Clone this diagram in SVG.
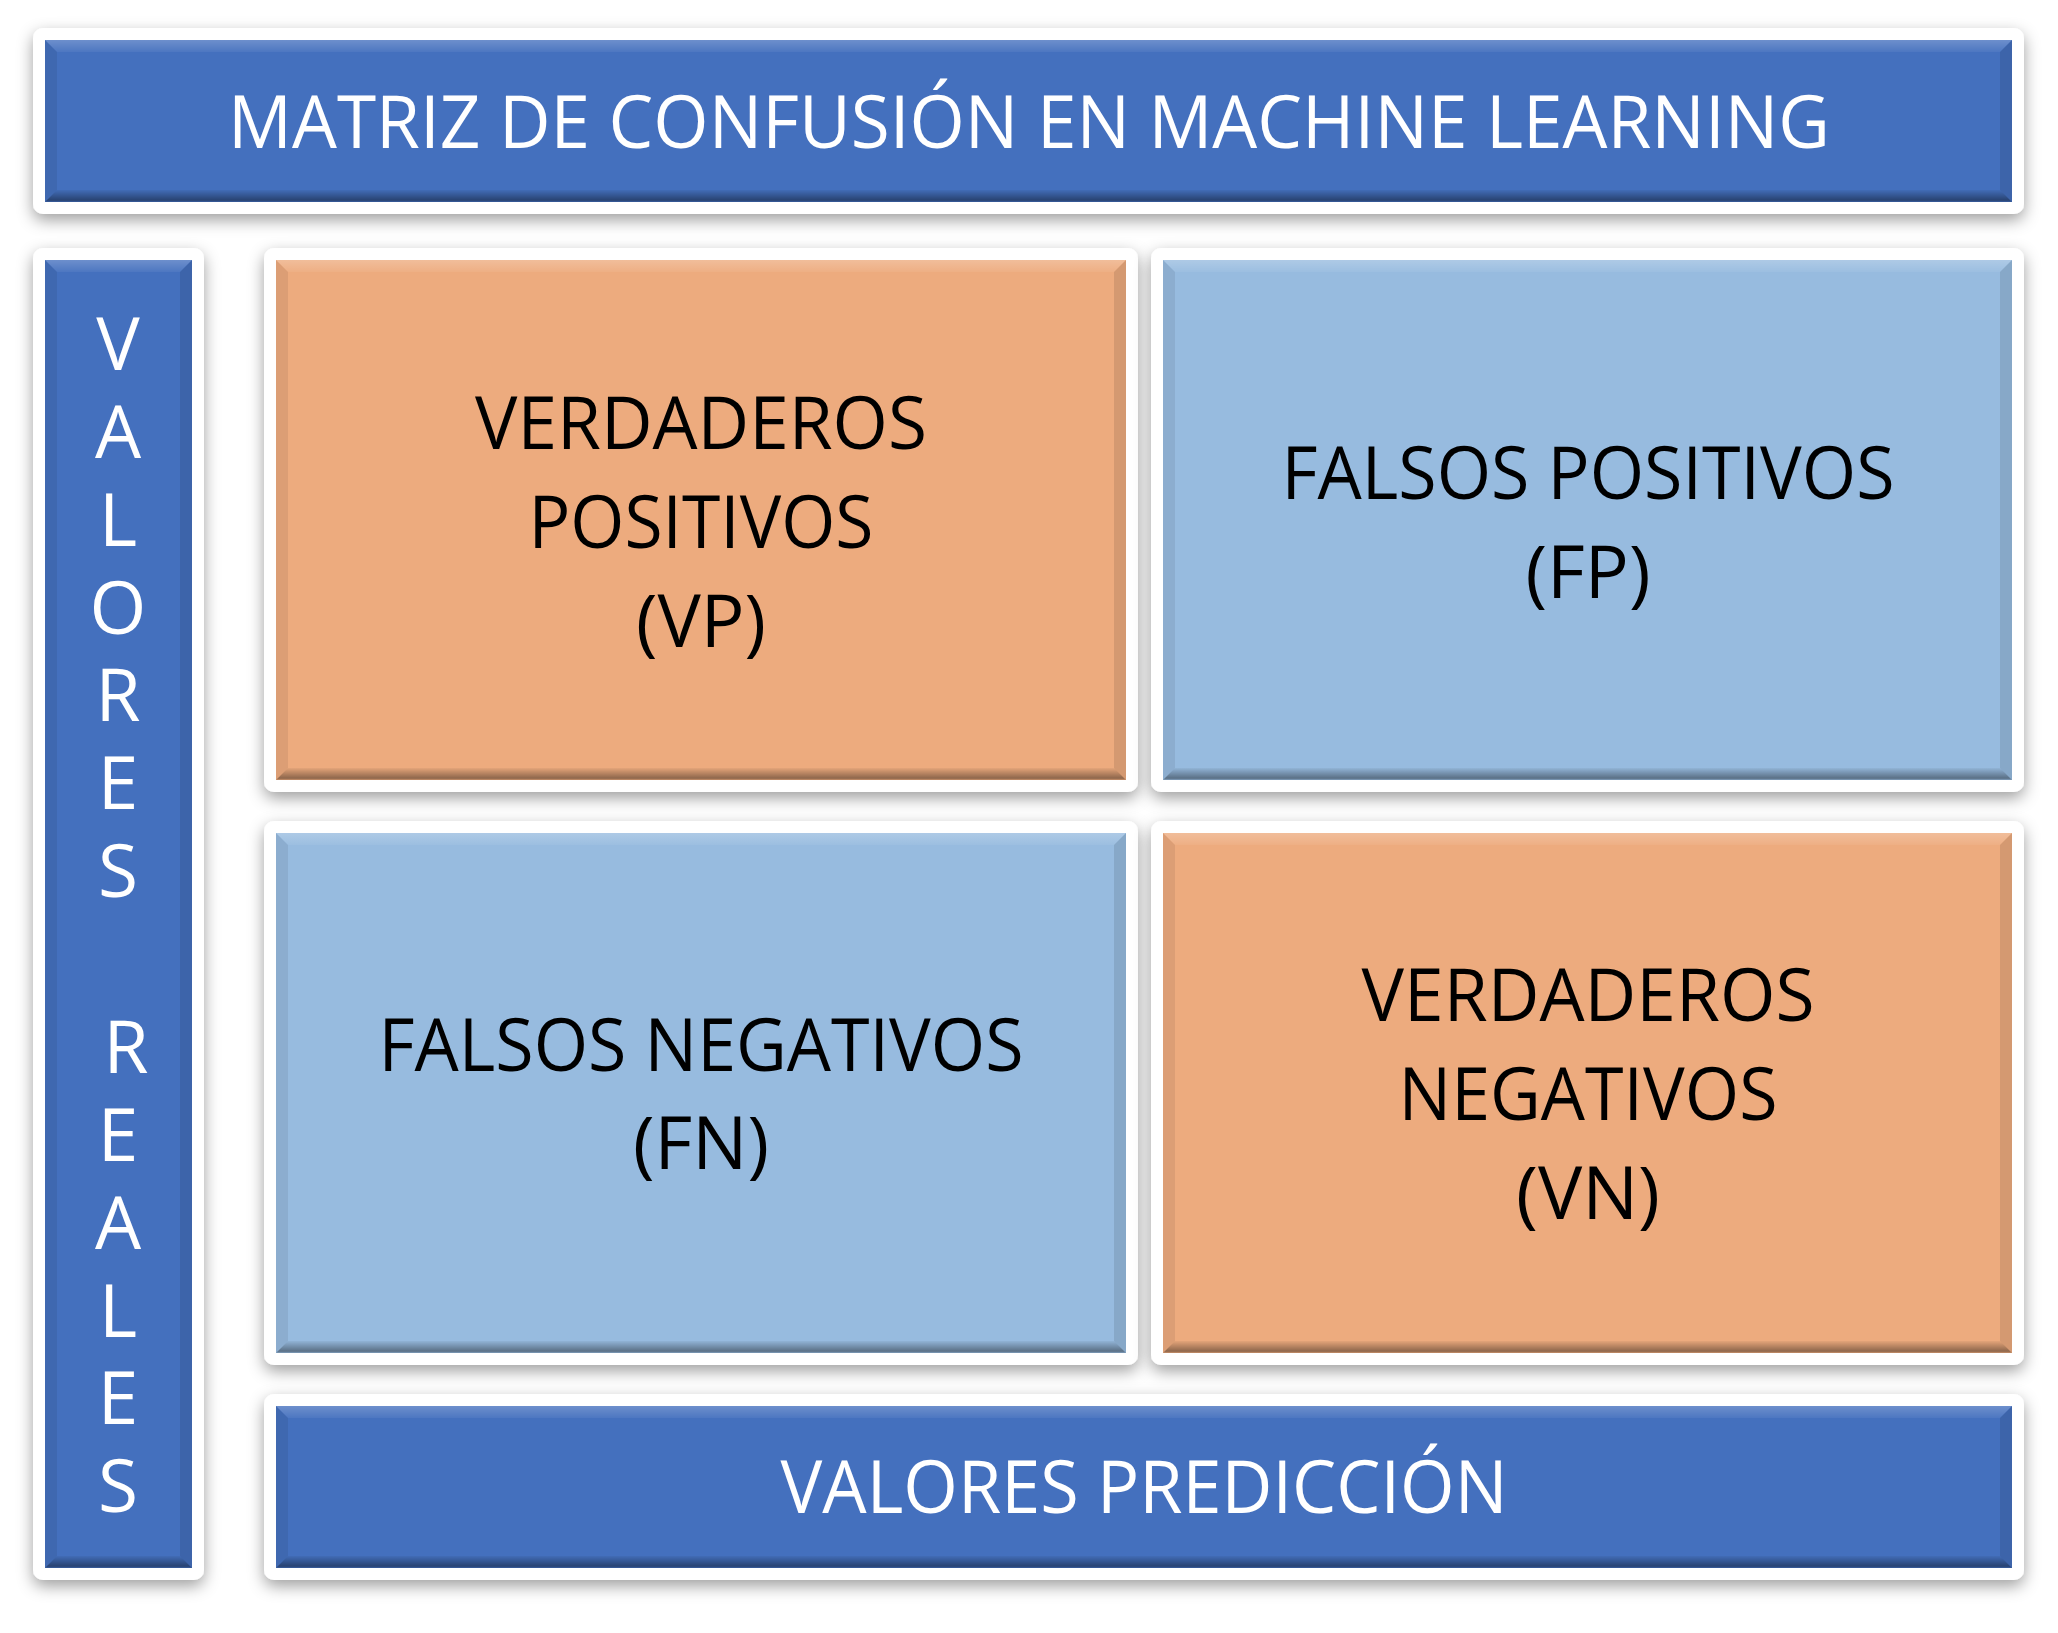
<svg xmlns="http://www.w3.org/2000/svg" width="2058" height="1633" viewBox="0 0 2058 1633">
  <style>
    .frame { fill: #ffffff; filter: url(#shadow); }
    .blue { fill: #4470BE; }
    .lblue { fill: #97BBDF; }
    .orange { fill: #EDAB7E; }
    .bv-top { fill: url(#bvTop); }
    .bv-bot { fill: url(#bvBot); }
    .bv-left { fill: #000000; fill-opacity: 0.07; }
    .bv-right { fill: #000000; fill-opacity: 0.1; }
    text { font-family: "Open Sans", "Noto Sans", "Liberation Sans", sans-serif; font-size: 73px; text-anchor: middle; }
    .w { fill: #ffffff; }
    .k { fill: #000000; }
  </style>
  <defs>
    <filter id="shadow" x="-10%" y="-10%" width="120%" height="130%">
      <feDropShadow dx="0" dy="6" stdDeviation="8" flood-color="#000000" flood-opacity="0.38"/>
    </filter>
    <linearGradient id="bvTop" x1="0" y1="0" x2="0" y2="1">
      <stop offset="0" stop-color="#ffffff" stop-opacity="0.22"/>
      <stop offset="1" stop-color="#ffffff" stop-opacity="0.05"/>
    </linearGradient>
    <linearGradient id="bvBot" x1="0" y1="0" x2="0" y2="1">
      <stop offset="0" stop-color="#000000" stop-opacity="0.04"/>
      <stop offset="0.85" stop-color="#000000" stop-opacity="0.4"/>
      <stop offset="1" stop-color="#000000" stop-opacity="0.15"/>
    </linearGradient>
  </defs>
  <rect width="2058" height="1633" fill="#ffffff"/>

  <!-- title bar -->
  <g id="title">
    <rect class="frame" x="33" y="28" width="1991" height="186" rx="10"/>
    <rect class="blue" x="45" y="40" width="1967" height="162"/>
    <polygon class="bv-top" points="45,40 2012,40 2000,52 57,52"/>
    <polygon class="bv-bot" points="45,202 2012,202 2000,190 57,190"/>
    <polygon class="bv-left" points="45,40 57,52 57,190 45,202"/>
    <polygon class="bv-right" points="2012,40 2000,52 2000,190 2012,202"/>
    <text class="w" x="1029" y="148" textLength="1602" lengthAdjust="spacingAndGlyphs">MATRIZ DE CONFUSIÓN EN MACHINE LEARNING</text>
  </g>

  <!-- vertical axis label, one letter per line -->
  <g id="valores-reales">
    <rect class="frame" x="33" y="248" width="171" height="1332" rx="10"/>
    <rect class="blue" x="45" y="260" width="147" height="1308"/>
    <polygon class="bv-top" points="45,260 192,260 180,272 57,272"/>
    <polygon class="bv-bot" points="45,1568 192,1568 180,1556 57,1556"/>
    <polygon class="bv-left" points="45,260 57,272 57,1556 45,1568"/>
    <polygon class="bv-right" points="192,260 180,272 180,1556 192,1568"/>
    <text class="w" x="118" y="370">V</text>
    <text class="w" x="118" y="458">A</text>
    <text class="w" x="118" y="546">L</text>
    <text class="w" x="118" y="634">O</text>
    <text class="w" x="118" y="721">R</text>
    <text class="w" x="118" y="809">E</text>
    <text class="w" x="118" y="897">S</text>
    <text class="w" x="126" y="1073">R</text>
    <text class="w" x="118" y="1161">E</text>
    <text class="w" x="118" y="1249">A</text>
    <text class="w" x="118" y="1337">L</text>
    <text class="w" x="118" y="1424">E</text>
    <text class="w" x="118" y="1512">S</text>
  </g>

  <!-- true positives -->
  <g id="vp">
    <rect class="frame" x="264" y="248" width="874" height="544" rx="10"/>
    <rect class="orange" x="276" y="260" width="850" height="520"/>
    <polygon class="bv-top" points="276,260 1126,260 1114,272 288,272"/>
    <polygon class="bv-bot" points="276,780 1126,780 1114,768 288,768"/>
    <polygon class="bv-left" points="276,260 288,272 288,768 276,780"/>
    <polygon class="bv-right" points="1126,260 1114,272 1114,768 1126,780"/>
    <text class="k" x="701" y="449" textLength="452" lengthAdjust="spacingAndGlyphs">VERDADEROS</text>
    <text class="k" x="701" y="548" textLength="345" lengthAdjust="spacingAndGlyphs">POSITIVOS</text>
    <text class="k" x="701" y="647" textLength="130" lengthAdjust="spacingAndGlyphs">(VP)</text>
  </g>

  <!-- false positives -->
  <g id="fp">
    <rect class="frame" x="1151" y="248" width="873" height="544" rx="10"/>
    <rect class="lblue" x="1163" y="260" width="849" height="520"/>
    <polygon class="bv-top" points="1163,260 2012,260 2000,272 1175,272"/>
    <polygon class="bv-bot" points="1163,780 2012,780 2000,768 1175,768"/>
    <polygon class="bv-left" points="1163,260 1175,272 1175,768 1163,780"/>
    <polygon class="bv-right" points="2012,260 2000,272 2000,768 2012,780"/>
    <text class="k" x="1588" y="499" textLength="613" lengthAdjust="spacingAndGlyphs">FALSOS POSITIVOS</text>
    <text class="k" x="1588" y="598" textLength="125" lengthAdjust="spacingAndGlyphs">(FP)</text>
  </g>

  <!-- false negatives -->
  <g id="fn">
    <rect class="frame" x="264" y="821" width="874" height="544" rx="10"/>
    <rect class="lblue" x="276" y="833" width="850" height="520"/>
    <polygon class="bv-top" points="276,833 1126,833 1114,845 288,845"/>
    <polygon class="bv-bot" points="276,1353 1126,1353 1114,1341 288,1341"/>
    <polygon class="bv-left" points="276,833 288,845 288,1341 276,1353"/>
    <polygon class="bv-right" points="1126,833 1114,845 1114,1341 1126,1353"/>
    <text class="k" x="701" y="1071" textLength="645" lengthAdjust="spacingAndGlyphs">FALSOS NEGATIVOS</text>
    <text class="k" x="701" y="1169" textLength="136" lengthAdjust="spacingAndGlyphs">(FN)</text>
  </g>

  <!-- true negatives -->
  <g id="vn">
    <rect class="frame" x="1151" y="821" width="873" height="544" rx="10"/>
    <rect class="orange" x="1163" y="833" width="849" height="520"/>
    <polygon class="bv-top" points="1163,833 2012,833 2000,845 1175,845"/>
    <polygon class="bv-bot" points="1163,1353 2012,1353 2000,1341 1175,1341"/>
    <polygon class="bv-left" points="1163,833 1175,845 1175,1341 1163,1353"/>
    <polygon class="bv-right" points="2012,833 2000,845 2000,1341 2012,1353"/>
    <text class="k" x="1588" y="1021" textLength="453" lengthAdjust="spacingAndGlyphs">VERDADEROS</text>
    <text class="k" x="1588" y="1120" textLength="379" lengthAdjust="spacingAndGlyphs">NEGATIVOS</text>
    <text class="k" x="1588" y="1219" textLength="144" lengthAdjust="spacingAndGlyphs">(VN)</text>
  </g>

  <!-- horizontal axis label -->
  <g id="valores-prediccion">
    <rect class="frame" x="264" y="1394" width="1760" height="186" rx="10"/>
    <rect class="blue" x="276" y="1406" width="1736" height="162"/>
    <polygon class="bv-top" points="276,1406 2012,1406 2000,1418 288,1418"/>
    <polygon class="bv-bot" points="276,1568 2012,1568 2000,1556 288,1556"/>
    <polygon class="bv-left" points="276,1406 288,1418 288,1556 276,1568"/>
    <polygon class="bv-right" points="2012,1406 2000,1418 2000,1556 2012,1568"/>
    <text class="w" x="1144" y="1513" textLength="727" lengthAdjust="spacingAndGlyphs">VALORES PREDICCIÓN</text>
  </g>

  <g id="connectors"/>
</svg>
